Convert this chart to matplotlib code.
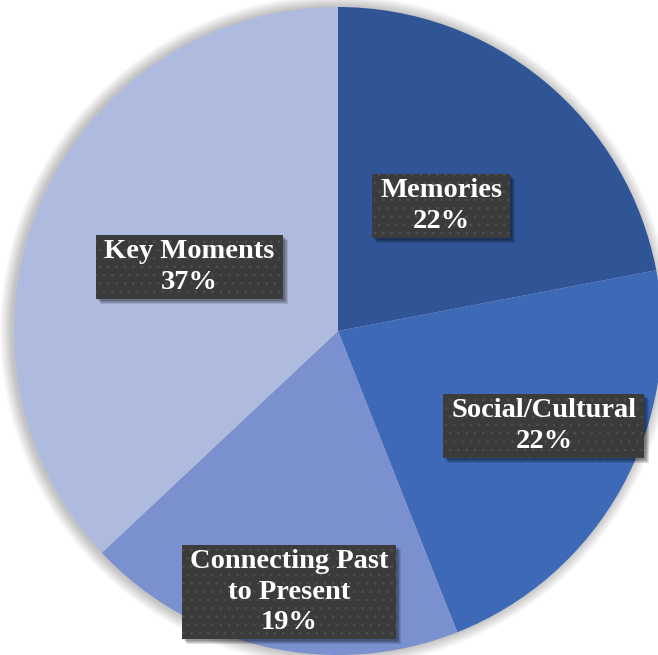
import numpy as np
import matplotlib.pyplot as plt
from matplotlib.patches import Rectangle, Circle

categories = ["Memories", "Social/Cultural", "Connecting Past\nto Present", "Key Moments"]
shares = [22, 22, 19, 37]
colors = ["#2f5597", "#3d69b7", "#7a90cf", "#afbbde"]

# label placement: radius as fraction of pie radius, angle nudge in degrees
label_r = [0.50, 0.70, 0.82, 0.50]
label_dang = [0, 4, 2.0, 0]

W, H = 658, 655
cx, cy, R = 338, 331, 324

plt.rcParams["hatch.color"] = "#505050"
plt.rcParams["hatch.linewidth"] = 0.6

fig = plt.figure(figsize=(W / 100, H / 100), dpi=100)
ax = fig.add_axes([0, 0, 1, 1])

# soft shadow around the pie
for k in range(12):
    ax.add_patch(Circle((-2, 0), R + 12 - k, color="black", alpha=0.02, lw=0, zorder=0))

wedges, _ = ax.pie(shares, colors=colors, startangle=90, counterclock=False,
                   radius=R, center=(0, 0), frame=True,
                   wedgeprops=dict(linewidth=0))
ax.set_xlim(-cx, W - cx)
ax.set_ylim(-(H - cy), cy)
ax.set_aspect("auto")
ax.axis("off")

fig.canvas.draw()
renderer = fig.canvas.get_renderer()
inv = ax.transData.inverted()

for w, name, v, r, da in zip(wedges, categories, shares, label_r, label_dang):
    ang = np.deg2rad((w.theta1 + w.theta2) / 2 + da)
    x, y = r * R * np.cos(ang), r * R * np.sin(ang)
    t = ax.text(x, y, f"{name}\n{v}%", ha="center", va="center", color="white",
                fontsize=20.5, fontweight="bold", family="Liberation Serif",
                linespacing=1.3, zorder=5)
    bb = t.get_window_extent(renderer)
    (x0, y0), (x1, y1) = inv.transform([[bb.x0, bb.y0], [bb.x1, bb.y1]])
    px, py = 8, 4
    bw, bh = (x1 - x0) + 2 * px, (y1 - y0) + 2 * py
    bx, by = x0 - px, y0 - py
    for s in range(4):
        ax.add_patch(Rectangle((bx + 2 + s, by - 2 - s), bw, bh, color="black",
                               alpha=0.12, lw=0, zorder=3))
    ax.add_patch(Rectangle((bx, by), bw, bh, facecolor="#3b3b3b", edgecolor="#505050",
                           hatch="..", lw=0, zorder=4))

fig.savefig("out.png", dpi=100)
